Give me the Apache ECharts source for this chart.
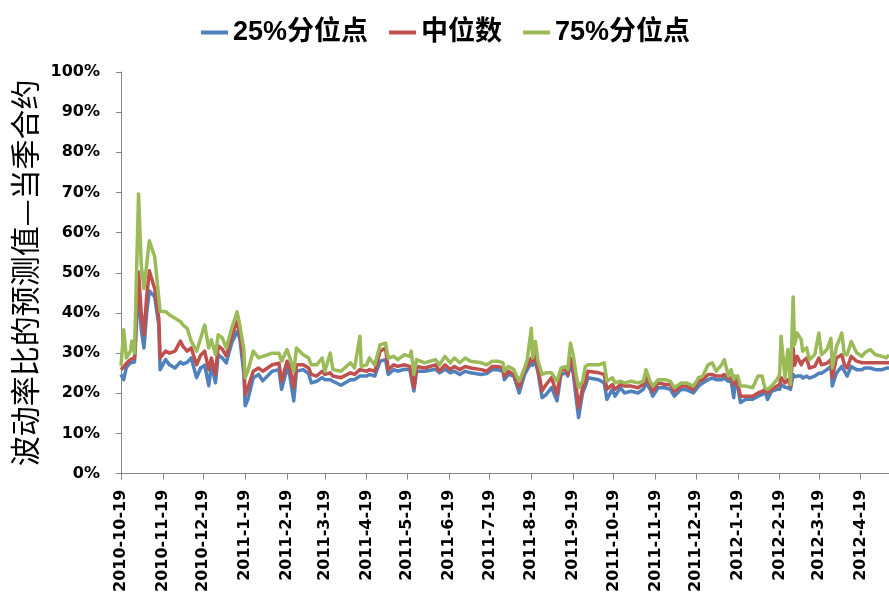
<!DOCTYPE html>
<html>
<head>
<meta charset="utf-8">
<script src="https://cdn.jsdelivr.net/npm/echarts@6/dist/echarts.min.js"></script>
<style>
  html, body { margin: 0; padding: 0; background: #fff; }
  #chart { width: 889px; height: 595px; }
</style>
</head>
<body>
<div id="chart"></div>
<script>
// Observation dates (trading days sampled along the series)
const dates = [
  '2010-10-19','2010-10-21','2010-10-23','2010-10-26','2010-10-27','2010-10-29',
  '2010-11-01','2010-11-03','2010-11-05','2010-11-07','2010-11-09','2010-11-13',
  '2010-11-16','2010-11-17','2010-11-21','2010-11-24','2010-11-28','2010-12-02',
  '2010-12-04','2010-12-07','2010-12-10','2010-12-14','2010-12-17','2010-12-20',
  '2010-12-23','2010-12-25','2010-12-28','2010-12-30','2011-01-02','2011-01-05',
  '2011-01-09','2011-01-13','2011-01-15','2011-01-18','2011-01-19','2011-01-21',
  '2011-01-25','2011-01-29','2011-02-01','2011-02-08','2011-02-13','2011-02-15',
  '2011-02-19','2011-02-21','2011-02-24','2011-02-26','2011-03-03','2011-03-07',
  '2011-03-09','2011-03-13','2011-03-17','2011-03-19','2011-03-23','2011-03-25',
  '2011-03-31','2011-04-07','2011-04-10','2011-04-14','2011-04-15','2011-04-19',
  '2011-04-21','2011-04-25','2011-04-29','2011-05-03','2011-05-05','2011-05-09',
  '2011-05-12','2011-05-17','2011-05-21','2011-05-22','2011-05-24','2011-05-26',
  '2011-06-01','2011-06-09','2011-06-12','2011-06-16','2011-06-20','2011-06-23',
  '2011-06-27','2011-07-01','2011-07-05','2011-07-13','2011-07-17','2011-07-21',
  '2011-07-25','2011-07-29','2011-07-30','2011-08-02','2011-08-06','2011-08-10',
  '2011-08-14','2011-08-16','2011-08-19','2011-08-20','2011-08-22','2011-08-24',
  '2011-08-27','2011-08-30','2011-09-03','2011-09-07','2011-09-10','2011-09-14',
  '2011-09-15','2011-09-17','2011-09-19','2011-09-21','2011-09-23','2011-09-26',
  '2011-09-28','2011-09-30','2011-10-08','2011-10-12','2011-10-13','2011-10-14',
  '2011-10-18','2011-10-20','2011-10-24','2011-10-27','2011-11-01','2011-11-06',
  '2011-11-10','2011-11-12','2011-11-15','2011-11-17','2011-11-21','2011-11-26',
  '2011-11-30','2011-12-03','2011-12-08','2011-12-12','2011-12-17','2011-12-21',
  '2011-12-24','2011-12-28','2011-12-31','2012-01-03','2012-01-07','2012-01-09',
  '2012-01-12','2012-01-14','2012-01-16','2012-01-17','2012-01-19','2012-01-21',
  '2012-01-25','2012-01-30','2012-02-03','2012-02-06','2012-02-08','2012-02-10',
  '2012-02-13','2012-02-17','2012-02-19','2012-02-20','2012-02-23','2012-02-25',
  '2012-02-27','2012-02-29','2012-03-01','2012-03-03','2012-03-06','2012-03-07',
  '2012-03-10','2012-03-12','2012-03-16','2012-03-19','2012-03-21','2012-03-25',
  '2012-03-28','2012-03-29','2012-04-01','2012-04-05','2012-04-07','2012-04-09',
  '2012-04-12','2012-04-16','2012-04-20','2012-04-22','2012-04-26','2012-04-30',
  '2012-05-05','2012-05-08','2012-05-10'
];

// 25% quantile, percent
const p25 = [
  24.7,23.4,26.5,27.6,27.8,27.8,
  46.9,36.0,31.3,40.0,45.5,44.0,
  37.0,25.9,28.4,27.1,26.3,27.8,
  27.3,27.7,28.8,23.9,26.3,27.0,
  21.9,27.1,22.6,29.6,28.8,27.6,
  32.5,35.4,33.7,25.0,16.9,18.5,
  23.9,24.7,23.1,25.5,25.9,21.0,
  26.3,24.5,18.1,25.5,25.9,24.9,
  22.6,23.0,23.9,23.4,23.4,23.0,
  22.0,23.4,23.4,24.3,24.3,24.3,
  24.7,24.3,28.0,28.4,24.7,25.9,
  25.5,26.0,25.9,25.9,20.6,25.5,
  25.5,26.0,25.1,26.0,25.1,25.5,
  24.7,25.5,25.1,24.7,24.9,25.9,
  25.9,25.5,23.4,24.7,24.3,20.1,
  24.7,25.9,27.6,27.0,28.0,25.1,
  18.9,19.7,21.4,18.1,24.7,25.1,
  24.3,27.1,25.1,19.3,14.0,20.1,
  21.8,23.9,23.4,22.6,23.0,18.5,
  21.0,19.3,21.4,20.1,20.5,20.1,
  21.0,22.6,21.0,19.3,21.4,21.4,
  21.0,19.3,21.0,20.9,20.1,21.8,
  22.6,23.4,23.8,23.4,23.4,23.8,
  23.0,23.0,18.9,23.4,21.4,17.7,
  18.5,18.5,19.3,19.7,20.5,18.5,
  20.5,21.0,21.0,22.2,21.5,21.4,
  21.0,24.7,24.1,24.3,24.3,23.8,
  24.3,23.8,24.3,25.0,25.0,25.9,
  26.7,21.8,25.0,26.7,25.5,24.3,
  26.7,25.9,25.9,26.3,26.3,25.9,
  25.9,26.3,26.3
];

// Median, percent
const median = [
  25.9,26.5,27.5,28.4,28.6,28.8,
  50.2,40.0,34.6,44.0,50.5,46.0,
  38.7,28.8,30.5,30.0,30.5,33.0,
  31.7,30.5,31.3,27.1,29.5,30.5,
  25.9,28.8,24.7,31.8,31.0,29.3,
  34.2,37.9,35.0,28.0,19.7,21.4,
  25.5,26.3,25.5,27.1,27.5,23.0,
  28.0,26.5,21.4,27.1,27.1,26.3,
  24.7,24.3,25.5,24.7,25.1,24.3,
  23.9,25.1,24.7,25.9,25.9,25.5,
  25.9,25.5,30.5,31.3,25.9,27.1,
  26.7,27.1,26.7,27.0,21.4,26.7,
  26.3,27.1,25.5,27.1,25.9,26.7,
  25.9,26.7,26.3,25.9,25.5,26.7,
  26.7,26.3,24.3,25.5,24.7,21.4,
  25.9,26.7,28.8,28.0,29.6,25.9,
  20.6,22.2,23.9,19.7,25.9,25.9,
  24.7,28.8,26.7,22.2,16.4,21.4,
  23.0,25.5,25.1,24.7,24.7,21.0,
  22.2,21.0,22.2,21.8,21.8,21.4,
  22.2,23.9,22.2,20.5,22.6,22.2,
  22.2,20.5,21.8,21.8,21.0,23.0,
  23.4,24.7,24.7,24.3,24.3,24.7,
  23.8,23.8,22.2,24.1,22.2,19.3,
  19.3,19.3,20.1,20.5,21.0,20.1,
  21.0,21.8,22.2,23.9,22.6,23.4,
  21.8,31.3,27.0,29.2,27.1,27.9,
  28.8,26.3,26.7,28.8,27.1,27.5,
  28.4,23.9,28.8,29.6,27.1,26.3,
  29.2,28.0,27.6,27.6,27.6,27.6,
  27.6,27.6,27.6
];

// 75% quantile, percent
const p75 = [
  26.8,35.8,28.8,30.5,33.0,30.0,
  69.6,52.0,46.1,52.0,58.0,54.0,
  43.6,40.4,40.4,39.5,38.7,37.9,
  37.0,36.2,33.0,30.5,33.7,37.0,
  31.3,33.3,29.6,34.6,33.8,31.3,
  36.2,40.3,37.0,31.0,23.9,25.6,
  30.5,28.8,29.2,30.0,30.0,28.0,
  30.9,29.0,25.5,31.3,29.6,28.8,
  27.1,27.1,28.8,25.5,30.0,25.9,
  25.5,27.6,26.3,34.2,26.7,27.1,
  28.8,27.1,32.1,32.5,28.8,29.2,
  28.4,29.6,29.2,30.5,24.7,28.4,
  27.6,28.4,27.1,29.2,27.6,28.8,
  27.6,28.8,28.0,27.6,27.1,28.0,
  28.0,27.6,25.5,26.7,25.9,23.0,
  26.3,28.4,36.2,28.8,32.9,28.0,
  24.7,25.1,25.1,23.0,26.3,26.7,
  25.9,32.5,29.6,25.1,21.4,23.0,
  26.7,27.1,27.1,27.6,28.0,23.0,
  23.9,22.6,23.0,22.6,23.0,22.6,
  23.0,25.9,23.0,21.8,23.4,23.4,
  23.0,21.4,22.6,22.6,21.8,23.9,
  24.3,27.1,27.6,25.5,27.1,28.4,
  24.3,25.9,23.4,24.3,24.3,21.8,
  21.8,21.4,24.3,24.3,21.4,21.0,
  21.8,23.4,24.7,34.2,23.9,30.9,
  22.2,44.0,32.1,35.0,33.3,30.5,
  31.3,28.4,29.6,35.0,29.6,30.9,
  33.7,26.3,31.5,35.0,29.6,29.6,
  32.9,30.1,29.2,30.1,30.9,29.6,
  29.2,28.8,29.6
];

// Monthly tick labels on the date axis
const tickLabels = [
  '2010-10-19','2010-11-19','2010-12-19','2011-1-19','2011-2-19','2011-3-19',
  '2011-4-19','2011-5-19','2011-6-19','2011-7-19','2011-8-19','2011-9-19',
  '2011-10-19','2011-11-19','2011-12-19','2012-1-19','2012-2-19','2012-3-19',
  '2012-4-19'
];

const seriesNames = ['25%分位点', '中位数', '75%分位点'];
const axisStart = '2010-10-19';
const axisEnd = '2012-05-10';

function toTime(s) {
  const [y, m, d] = s.split('-').map(Number);
  return new Date(y, m - 1, d).getTime();
}
function fmtDate(t) {
  const d = new Date(t);
  return d.getFullYear() + '-' + (d.getMonth() + 1) + '-' + d.getDate();
}
function pairs(vals) {
  return dates.map((s, i) => [toTime(s), vals[i] / 100]);
}

const tickTimes = tickLabels.map(toTime);
const colors = ['#4F81BD', '#C0504D', '#9BBB59'];
const axisColor = '#868686';

const chart = echarts.init(document.getElementById('chart'), null, { renderer: 'canvas' });
chart.setOption({
  animation: false,
  backgroundColor: '#ffffff',
  color: colors,
  legend: {
    top: 14,
    left: 196,
    icon: 'rect',
    itemWidth: 27,
    itemHeight: 4,
    itemGap: 21,
    textStyle: {
      fontFamily: '"Liberation Sans", Arial, "Noto Sans CJK SC", sans-serif',
      fontWeight: 'bold',
      fontSize: 27,
      color: '#000'
    },
    data: seriesNames
  },
  grid: { left: 121, right: 0, top: 72, bottom: 119, containLabel: false },
  xAxis: {
    type: 'value',
    min: toTime(axisStart),
    max: toTime(axisEnd),
    splitLine: { show: false },
    axisLine: { lineStyle: { color: axisColor, width: 1 } },
    axisTick: { show: true, length: 6, lineStyle: { color: axisColor }, customValues: tickTimes },
    axisLabel: {
      customValues: tickTimes,
      rotate: 90,
      margin: 16,
      formatter: (v) => fmtDate(v),
      fontFamily: '"DejaVu Sans", sans-serif',
      fontWeight: 'bold',
      fontSize: 16,
      color: '#000'
    }
  },
  yAxis: {
    type: 'value',
    min: 0,
    max: 1,
    interval: 0.1,
    name: '波动率比的预测值—当季合约',
    nameLocation: 'middle',
    nameGap: 80,
    nameRotate: 90,
    nameTextStyle: {
      fontFamily: '"Noto Sans CJK SC", sans-serif',
      fontSize: 30,
      color: '#000'
    },
    splitLine: { show: false },
    axisLine: { show: true, lineStyle: { color: axisColor, width: 1 } },
    axisTick: { show: true, length: 5, lineStyle: { color: axisColor } },
    axisLabel: {
      margin: 21,
      formatter: (v) => Math.round(v * 100) + '%',
      fontFamily: '"DejaVu Sans", sans-serif',
      fontWeight: 'bold',
      fontSize: 16,
      color: '#000'
    }
  },
  series: [p25, median, p75].map((vals, i) => ({
    name: seriesNames[i],
    type: 'line',
    data: pairs(vals),
    showSymbol: false,
    symbol: 'none',
    z: 2 + i,
    lineStyle: { width: 3.5, color: colors[i], join: 'round' },
    itemStyle: { color: colors[i] }
  }))
});
</script>
</body>
</html>
